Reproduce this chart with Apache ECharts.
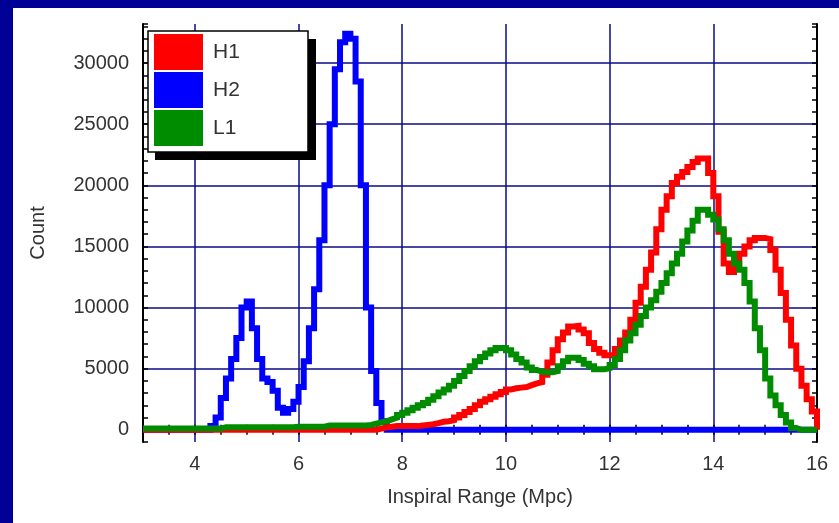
<!DOCTYPE html>
<html>
<head>
<meta charset="utf-8">
<script src="https://cdn.jsdelivr.net/npm/echarts@6/dist/echarts.min.js"></script>
<style>
html, body { margin: 0; padding: 0; background: #fff; }
#chart { width: 839px; height: 523px; }
</style>
</head>
<body>
<div id="chart"></div>
<script>
// histogram bins: 0.1 Mpc wide, starting at 3.0
var binStart = 3.0;
var binWidth = 0.1;

var seriesNames = ['H1', 'H2', 'L1'];
var seriesColors = ['#ff0000', '#0000ff', '#008c00'];

var h1Counts = [
	0, 0, 0, 0, 0, 0, 0, 0, 0, 0,
	0, 0, 0, 0, 0, 0, 0, 0, 0, 0,
	0, 0, 0, 0, 0, 0, 0, 0, 0, 0,
	0, 0, 0, 0, 0, 0, 0, 0, 0, 0,
	0, 0, 0, 0, 0, 100, 200, 250, 300, 300,
	300, 300, 300, 350, 400, 450, 550, 650, 700, 800,
	1000, 1200, 1450, 1700, 2000, 2300, 2500, 2700, 2900, 3100,
	3300, 3400, 3450, 3500, 3650, 3800, 3900, 4500, 5500, 6500,
	7400, 7950, 8450, 8500, 8200, 7900, 7100, 6600, 6300, 6100,
	6100, 6600, 7300, 7950, 9000, 10400, 11700, 13100, 14500, 16400,
	18000, 19100, 20200, 20700, 21100, 21500, 21900, 22200, 22200, 21000,
	19100, 16200, 13600, 12900, 13300, 14400, 15000, 15500, 15700, 15700,
	15600, 14700, 13100, 11200, 9000, 6900, 5000, 3600, 2500, 1500
];

var h2Counts = [
	0, 0, 0, 0, 0, 0, 0, 0, 0, 0,
	0, 0, 0, 300, 1000, 2600, 4200, 5800, 7500, 10000,
	10500, 8300, 5800, 4200, 3900, 3200, 1800, 1400, 1700, 2300,
	3500, 5600, 8300, 11500, 15500, 20000, 25000, 29500, 31700, 32400,
	32000, 28500, 20000, 10000, 4800, 2200, 700, 0, 0, 0,
	0, 0, 0, 0, 0, 0, 0, 0, 0, 0,
	0, 0, 0, 0, 0, 0, 0, 0, 0, 0,
	0, 0, 0, 0, 0, 0, 0, 0, 0, 0,
	0, 0, 0, 0, 0, 0, 0, 0, 0, 0,
	0, 0, 0, 0, 0, 0, 0, 0, 0, 0,
	0, 0, 0, 0, 0, 0, 0, 0, 0, 0,
	0, 0, 0, 0, 0, 0, 0, 0, 0, 0,
	0, 0, 0, 0, 0, 0, 0, 0, 0, 0
];

var l1Counts = [
	100, 100, 100, 100, 100, 100, 100, 100, 100, 100,
	100, 100, 100, 100, 100, 200, 200, 200, 200, 200,
	200, 200, 200, 200, 200, 200, 200, 200, 200, 250,
	250, 250, 250, 250, 250, 350, 350, 350, 350, 350,
	350, 350, 350, 400, 500, 600, 700, 850, 1000, 1200,
	1400, 1600, 1800, 2000, 2200, 2450, 2750, 3050, 3300, 3600,
	4000, 4400, 4800, 5200, 5600, 5950, 6250, 6500, 6700, 6700,
	6500, 6150, 5800, 5500, 5100, 4900, 4750, 4700, 4700, 4800,
	5200, 5600, 5900, 5900, 5700, 5400, 5200, 4950, 4950, 5050,
	5300, 5800, 6500, 7300, 7900, 8600, 9300, 10000, 10600, 11300,
	12000, 12800, 13600, 14400, 15400, 16300, 17100, 18000, 18000, 17600,
	17200, 16400, 15500, 14400, 13600, 13100, 12000, 10500, 8300, 6500,
	4200, 2800, 2000, 1200, 600, 150, 0, 0, 0, 0
];

var xTickLabels = [4, 6, 8, 10, 12, 14, 16];
var yTickLabels = [0, 5000, 10000, 15000, 20000, 25000, 30000];

// step outline: each point is a bin's left edge, last one closes at x = 16
function toSteps(counts) {
	var pts = [];
	for (var i = 0; i < counts.length; i++) {
		pts.push([Math.round((binStart + i * binWidth) * 10) / 10, counts[i]]);
	}
	var end = Math.round((binStart + counts.length * binWidth) * 10) / 10;
	pts.push([end, counts[counts.length - 1]]);
	pts.push([end, 0]);
	return pts;
}

var allCounts = [h1Counts, h2Counts, l1Counts];
var zOrder = [3, 2, 4];

var gridNavy = '#0a0a88';
var labelFont = { fontFamily: 'Liberation Sans, Arial, sans-serif', fontSize: 20, color: '#333' };

var chart = echarts.init(document.getElementById('chart'), null, { renderer: 'canvas' });

var option = {
	backgroundColor: '#ffffff',
	animation: false,
	graphic: [
		{ type: 'rect', z: 1, shape: { x: 0, y: 0, width: 839, height: 8 }, style: { fill: '#000096' } },
		{ type: 'rect', z: 1, shape: { x: 0, y: 0, width: 13, height: 523 }, style: { fill: '#000096' } },
		{ type: 'rect', z: 6, shape: { x: 155, y: 39, width: 161, height: 121 }, style: { fill: '#000' } },
		{ type: 'rect', z: 7, shape: { x: 148, y: 31, width: 160, height: 121 }, style: { fill: '#fff', stroke: '#000', lineWidth: 1.5 } }
	],
	legend: {
		z: 10,
		orient: 'vertical',
		left: 154,
		top: 34,
		icon: 'rect',
		itemWidth: 49,
		itemHeight: 36,
		itemGap: 2,
		padding: 0,
		data: seriesNames,
		textStyle: {
			fontFamily: labelFont.fontFamily,
			fontSize: 21,
			color: '#333',
			padding: [0, 0, 0, 5]
		}
	},
	grid: {
		left: 143,
		right: 22,
		top: 24,
		bottom: 81
	},
	xAxis: [{
		type: 'value',
		min: 3,
		max: 16,
		interval: 1,
		name: 'Inspiral Range (Mpc)',
		nameLocation: 'middle',
		nameGap: 45,
		nameTextStyle: labelFont,
		axisLine: { lineStyle: { color: '#000', width: 2 } },
		axisTick: { inside: true, length: 5, lineStyle: { color: '#000', width: 1.5 } },
		minorTick: { show: true, splitNumber: 2, length: 5, lineStyle: { color: '#000', width: 1.5 } },
		axisLabel: {
			margin: 12,
			fontFamily: labelFont.fontFamily,
			fontSize: 20,
			color: '#333',
			formatter: function(v) {
				return xTickLabels.indexOf(v) >= 0 ? String(v) : '';
			}
		},
		splitLine: {
			show: true,
			lineStyle: { color: ['transparent', gridNavy], width: 1.5 }
		}
	}, {
		type: 'value',
		position: 'top',
		min: 3,
		max: 16,
		interval: 1,
		axisLine: { lineStyle: { color: '#000', width: 2 } },
		axisTick: { inside: true, length: 5, lineStyle: { color: '#000', width: 1.5 } },
		minorTick: { show: true, splitNumber: 2, length: 5, lineStyle: { color: '#000', width: 1.5 } },
		axisLabel: { show: false },
		splitLine: { show: false }
	}],
	yAxis: [{
		type: 'value',
		min: -1000,
		max: 33200,
		interval: 1000,
		name: 'Count',
		nameLocation: 'middle',
		nameGap: 95,
		nameTextStyle: labelFont,
		axisLine: { lineStyle: { color: '#000', width: 2 } },
		axisTick: { inside: true, length: 5, lineStyle: { color: '#000', width: 1.5 } },
		axisLabel: {
			margin: 14,
			fontFamily: labelFont.fontFamily,
			fontSize: 20,
			color: '#333',
			formatter: function(v) {
				return yTickLabels.indexOf(v) >= 0 ? String(v) : '';
			}
		},
		splitLine: {
			show: true,
			lineStyle: {
				color: ['transparent', gridNavy, 'transparent', 'transparent', 'transparent'],
				width: 1.5
			}
		}
	}, {
		type: 'value',
		position: 'right',
		min: -1000,
		max: 33200,
		interval: 1000,
		axisLine: { show: true, lineStyle: { color: '#000', width: 2 } },
		axisTick: { show: true, inside: true, length: 5, lineStyle: { color: '#000', width: 1.5 } },
		axisLabel: { show: false },
		splitLine: { show: false }
	}],
	series: seriesNames.map(function(name, k) {
		return {
			name: name,
			type: 'line',
			step: 'end',
			xAxisIndex: 0,
			yAxisIndex: 0,
			z: zOrder[k],
			showSymbol: false,
			symbol: 'none',
			itemStyle: { color: seriesColors[k] },
			lineStyle: { color: seriesColors[k], width: 6, join: 'miter' },
			data: toSteps(allCounts[k])
		};
	})
};

chart.setOption(option);
</script>
</body>
</html>
